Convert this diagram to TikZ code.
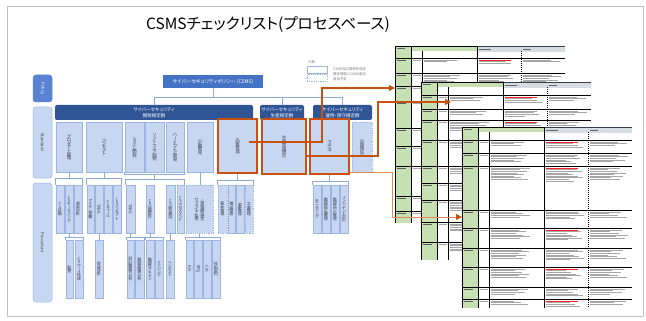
\documentclass[tikz,border=0pt]{standalone}
\usepackage{fontspec}
\setmainfont[RawFeature=+palt]{Noto Sans CJK JP}
\usetikzlibrary{arrows.meta,calc}
\definecolor{polc}{HTML}{4472C4}
\definecolor{sidepol}{HTML}{5A82D2}
\definecolor{ghdrc}{HTML}{2F5597}
\definecolor{lfill}{HTML}{C7D7F2}
\definecolor{lbord}{HTML}{9DB5E2}
\definecolor{txtc}{HTML}{404050}
\definecolor{orng}{HTML}{C8510F}
\definecolor{orng2}{HTML}{E58A52}
\definecolor{connc}{HTML}{8EA9DB}
\definecolor{shgreen}{HTML}{C6E0B4}
\definecolor{shhdr}{HTML}{D6DCE4}
\definecolor{shnavy}{HTML}{333F50}

\makeatletter
\def\vt@bar{ー}
\newcommand\vt[1]{\vbox{\offinterlineskip\@tfor\vt@c:=#1\do{\hbox to 1em{\hss\vphantom{国}\ifx\vt@c\vt@bar\rotatebox[origin=c]{-90}{ー}\else\vt@c\fi\hss}\kern-0.12em}}}
\makeatother

\newcommand\bx[7]{\node[#1, minimum width={(#5-#3)*1pt}, minimum height={(#6-#4)*1pt}] (#2) at ({(#3+#5)/2},{(#4+#6)/2}) {#7};}
\newcommand\brk[4]{\draw[conn] (#2.north west) |- ($(#1.south)+(0,#4)$) -| (#3.north east); \draw[conn] (#1.south) -- ++(0,#4);}
\newcommand\rt[1]{\rotatebox[origin=c]{-90}{#1}}

\newcommand\sheet[5]{%
\begin{scope}[shift={(#1,#2)}]
\coordinate (#5) at (0,0);
\fill[white] (0,0) rectangle (170,#3);
\fill[shgreen] (0,0) rectangle (16,#3);
\fill[shgreen] (16,0) rectangle (82,5);
\fill[shhdr] (82,1) rectangle (170,6);
\draw[shnavy, line width=1.3] (82,0.6) -- (170,0.6);
\draw[black, line width=0.8] (0,0.4) -- (82,0.4);
\draw[gray!80!black, line width=0.6] (1.5,2.5) -- (10,2.5) (84,3.5) -- (96,3.5) (128,3.5) -- (136,3.5);
\foreach \r/\n [count=\i] in {#4} {
 \draw[black, line width=0.45] (0,\r) -- (170,\r);
 \draw[gray!75!black, line width=0.6] (1.5,\r+2) -- (11,\r+2);
 \draw[gray!70, line width=0.6] (17.5,\r+2) -- (25.5,\r+2);
 \ifodd\i \def\rc{red!85}\else\def\rc{gray!70}\fi
 \draw[draw=\rc, line width=0.6] (84,\r+2) -- (116,\r+2);
 \foreach \k in {1,...,\n} {
  \pgfmathsetmacro\yy{\r+2+1.6*\k}
  \pgfmathsetmacro\la{52+mod(\k*7+\i*3,17)}
  \pgfmathsetmacro\lb{104+mod(\k*5+\i*2,19)}
  \pgfmathsetmacro\lc{146+mod(\k*9+\i,21)}
  \draw[gray!70, line width=0.55] (29,\yy-1.6) -- (\la,\yy-1.6) (84,\yy) -- (\lb,\yy) (128,\yy-1.6) -- (\lc,\yy-1.6);
 }
}
\draw[black, line width=0.5] (16,0) -- (16,#3) (27,5) -- (27,#3) (0,0) -- (0,#3);
\draw[black, line width=0.9] (82,0) -- (82,#3);
\draw[black, line width=0.5, dash pattern=on 1pt off 1pt] (126,5) -- (126,#3);
\end{scope}}

\begin{document}
\begin{tikzpicture}[x=1pt,y=-1pt,
 sbox/.style={draw=lbord, fill=lfill, line width=0.5, inner sep=0, text=txtc, font=\fontsize{4.5}{5}\selectfont},
 dsh/.style={dash pattern=on 1pt off 0.8pt},
 pbox/.style={sbox, font=\fontsize{4.1}{5}\selectfont},
 ghdr/.style={fill=ghdrc, rounded corners=2, inner sep=0, text=white, font=\fontsize{4.6}{6}\selectfont, align=center},
 side/.style={draw=lbord, fill=lfill, rounded corners=3, line width=0.5, inner sep=0, text=txtc, font=\fontsize{4.2}{5}\selectfont},
 hl/.style={draw=orng, line width=2.2},
 conn/.style={draw=connc, line width=0.6},
 oarr/.style={draw=orng, line width=1.1, -{Triangle[length=6pt,width=6pt]}},
 oarrb/.style={draw=orng2, line width=0.8, -{Triangle[length=6pt,width=6pt,color=orng]}},
 lgtxt/.style={font=\fontsize{3.4}{4}\selectfont, text=gray!90!black, anchor=west, inner sep=0},
]
\useasboundingbox (0,0) rectangle (646,321);
\draw[gray!50, line width=0.8] (7,6) rectangle (643,316);
\node[font=\fontsize{15.5}{19}\selectfont] (title) at (268,25) {CSMSチェックリスト(プロセスベース)};

% side labels
\bx{side, fill=sidepol, draw=sidepol, text=white}{sp}{33}{75}{52}{102}{\rt{Policy}}
\bx{side}{ss}{33}{107}{52}{178}{\rt{Standard}}
\bx{side}{sr}{33}{183}{52}{302}{\rt{Procedure}}

% policy + groups
\bx{fill=polc, inner sep=0, text=white, font=\fontsize{5}{6}\selectfont}{pol}{163}{75}{263}{88}{サイバーセキュリティポリシー (CSMS)}
\bx{ghdr}{g1}{55}{105}{253}{120}{サイバーセキュリティ\\開発規定群}
\bx{ghdr}{g2}{260}{105}{304}{120}{サイバーセキュリティ\\生産規定群}
\bx{ghdr}{g3}{313}{105}{372}{120}{サイバーセキュリティ\\運用・保守規定群}
\coordinate (bus) at (0,97);
\draw[conn] (pol.south) -- (pol.south |- bus);
\draw[conn] (g1.north) |- (g3.north |- bus) -- (g3.north);
\draw[conn] (g2.north) -- (g2.north |- bus);

% legend
\node[lgtxt] (lgt) at (308,62) {凡例};
\bx{draw=lbord, line width=0.5}{lg1}{307}{67}{327}{72}{}
\bx{draw=lbord, line width=0.5, dsh}{lg2}{307}{75}{327}{81}{}
\node[lgtxt] (lgt1) at (333,69.5) {CSMS対応規程作成済};
\node[lgtxt] (lgt2) at (333,74.5) {既存規程にCSMS追加};
\node[lgtxt] (lgt3) at (333,79.5) {追加予定};

% standard boxes
\bx{sbox}{s1}{56}{122}{82}{172}{\vt{プロダクト管理}}
\bx{sbox}{s2}{86}{122}{122}{172}{\vt{コンセプト}}
\bx{sbox}{s3}{125}{122}{144}{172}{\vt{システム開発}}
\bx{sbox}{s4}{145}{122}{164}{172}{\vt{ソフトウェア開発}}
\bx{sbox}{s5}{166}{122}{184}{172}{\vt{ハードウェア開発}}
\bx{sbox}{s6}{187}{122}{213}{172}{\vt{分散開発}}
\bx{sbox,hl}{s7}{218}{119}{257}{173}{\vt{品質管理}}
\bx{sbox,hl}{s8}{262}{119}{306}{174}{\vt{生産管理規定}}
\bx{sbox,hl}{s9}{310}{119}{349}{174}{\rt{PSIRT}}
\bx{sbox,dsh}{s10}{352}{122}{372}{172}{\vt{品質保証}}

% procedure row 1
\bx{pbox}{p11}{56}{185}{64}{233}{\vt{CS計画}}
\bx{pbox}{p12}{65}{185}{73}{233}{\vt{CSテーラリング}}
\bx{pbox}{p13}{74}{185}{82}{233}{\vt{適用分析}}
\bx{pbox}{p21}{87}{185}{94}{233}{\vt{アイテム定義}}
\bx{pbox}{p22}{95}{185}{103}{233}{\rt{TARA}}
\bx{pbox}{p23}{104}{185}{112}{233}{\vt{CSゴール}}
\bx{pbox}{p24}{113}{185}{121}{233}{\vt{CSコンセプト}}
\bx{pbox}{p31}{126}{185}{135}{233}{\rt{TARA}}
\bx{pbox}{p32}{146}{185}{154}{233}{\vt{CS詳細設計}}
\bx{pbox}{p33}{166}{185}{175}{233}{\vt{CS統合検証}}
\bx{pbox}{p34}{177}{185}{184}{233}{\vt{CSアセスメント}}
\bx{pbox,dsh}{p41}{186}{185}{213}{233}{\vt{サプライヤ監視}\hspace{1.5pt}\vt{・技術展開規定}}
\bx{pbox,dsh}{p51}{218}{185}{227}{233}{\vt{要件管理}}
\bx{pbox}{p52}{228}{185}{235}{233}{\vt{構成管理}}
\bx{pbox}{p53}{236}{185}{244}{233}{\vt{変更管理}}
\bx{pbox,dsh}{p54}{245}{185}{253}{233}{\vt{文書管理}}
\bx{pbox}{p61}{313}{185}{321}{233}{\vt{モニタリング}}
\bx{pbox}{p62}{322}{185}{330}{233}{\vt{脆弱性評価管理}}
\bx{pbox}{p63}{331}{185}{339}{233}{\vt{脆弱性対応管理}}
\bx{pbox}{p64}{340}{185}{348}{233}{\vt{インシデント対応}}

% procedure row 2
\bx{pbox}{q1}{66}{240}{73}{298}{\vt{監査}}
\bx{pbox}{q2}{75}{240}{83}{298}{\vt{CSケース作成}}
\bx{pbox}{q3}{95}{240}{103}{298}{\vt{脅威分析}}
\bx{pbox}{q4}{127}{240}{134}{298}{\vt{設計脆弱性分析}}
\bx{pbox}{q5}{135}{240}{144}{298}{\vt{脆弱性関連分析}}
\bx{pbox}{q6}{146}{240}{154}{298}{\vt{脆弱性スキャン}}
\bx{pbox}{q7}{155}{240}{163}{298}{\vt{ファジング}}
\bx{pbox}{q8}{166}{240}{174}{298}{\vt{ペンテスト}}
\bx{pbox}{q9}{186}{240}{193}{298}{\rt{RFI}}
\bx{pbox}{q10}{194}{240}{202}{298}{\rt{RFQ}}
\bx{pbox}{q11}{203}{240}{211}{298}{\rt{CIA}}
\bx{pbox}{q12}{212}{240}{220}{298}{\vt{技術契約}}

% connectors
\brk{s1}{p11}{p13}{6}
\brk{s2}{p21}{p24}{6}
\draw[conn] (s3.south west) -- ++(0,2) -| (s5.south east);
\draw[conn] (s4.south) ++(0,2) -- ++(0,5) coordinate (sgb);
\draw[conn] (p31.north west) |- (sgb) -| (p34.north east);
\draw[conn] (s6.south) -- (s6.south |- p41.north);
\brk{s7}{p51}{p54}{6}
\brk{s9}{p61}{p64}{6}
\brk{p12}{q1}{q2}{4}
\draw[conn] (p22.south) -- (p22.south |- q3.north);
\brk{p31}{q4}{q5}{4}
\brk{p32}{q6}{q7}{4}
\draw[conn] (p33.south) -- (p33.south |- q8.north);
\brk{p41}{q9}{q12}{4}

% sheets
\sheet{395}{46}{177}{12/2,27/5,40/6,55/3,82/3,100/3,120/3,150/3,165/3}{T1}
\sheet{421}{82}{178}{13/3,27/3,38/6,58/4,84/4,101/4,118/6,140/5,160/5}{T2}
\sheet{462}{127}{181}{13/3,26/5,39/8,83/4,101/6,121/6,140/6,160/4,172/3}{T3}

% orange arrows
\coordinate (a1s) at ($(s7.center)+(11,-4)$);
\coordinate (k1) at (322,142);
\coordinate (t1in) at ($(T1)+(0,42)$);
\draw[oarr] (a1s) -- (k1) |- (t1in);
\coordinate (a2s) at (s8.east |- 0,156);
\coordinate (k2) at (378,156);
\coordinate (t2in) at ($(T2)+(30,20)$);
\draw[oarr] (a2s) -- (k2) |- (t2in);
\coordinate (a3s) at (s9.east |- 0,172);
\coordinate (k3) at (392,172);
\coordinate (t3in) at ($(T3)+(0,90)$);
\draw[oarrb] (a3s) -- (k3) |- (t3in);
\end{tikzpicture}
\end{document}
